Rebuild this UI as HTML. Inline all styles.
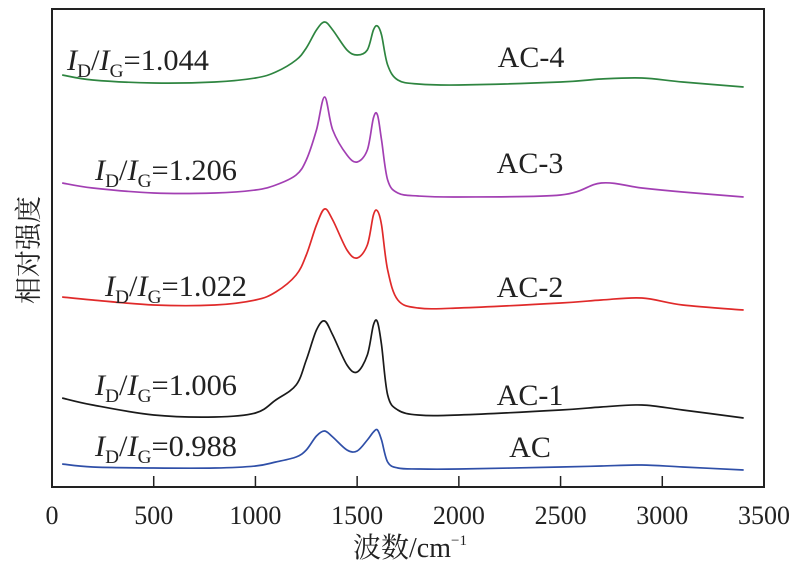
<!DOCTYPE html>
<html><head><meta charset="utf-8">
<style>
body{margin:0;background:#fff;}
svg{display:block;}
text{font-family:"Liberation Serif","Noto Serif CJK SC",serif;fill:#222;}
</style></head>
<body>
<svg id="chart" width="795" height="565" viewBox="0 0 795 565"></svg>
<script>
const wavenumbers=[50,200,500,800,1000,1100,1200,1250,1300,1340,1380,1450,1500,1550,1580,1600,1620,1650,1700,1800,2000,2500,2700,2900,3100,3400];
const seriesAC4=[412,407,404,405,409,415,427,439,457,465,457,437,432,437,457,461,452,422,407,403,402,405,408,409,405,400];
const seriesAC3=[304,299,294,294,297,302,312,327,357,390,357,332,325,337,369,372,347,307,294,291,290,292,304,299,295,290];
const seriesAC2=[190,187,182,182,187,195,212,232,262,278,267,237,229,242,272,276,262,217,187,179,179,184,187,189,182,177];
const seriesAC1=[89,82,72,70,74,87,102,127,157,166,152,122,115,132,162,165,142,92,77,72,72,77,80,82,77,69];
const seriesAC=[23,20,19,19,21,25,30,37,51,56,50,37,36,47,55,57,47,25,19,18,18,20,21,22,20,17];
const xTicks=[0,500,1000,1500,2000,2500,3000,3500];
const seriesNames=["AC-4","AC-3","AC-2","AC-1","AC"];
const ratioLabels=["1.044","1.206","1.022","1.006","0.988"];

const NS="http://www.w3.org/2000/svg";
const svg=document.getElementById('chart');
const L=52,R=764,T=9,B=487;
const xs=v=>L+(v/3500)*(R-L);
const ys=v=>B-v;
function mk(tag,attrs){const e=document.createElementNS(NS,tag);for(const k in attrs)e.setAttribute(k,attrs[k]);svg.appendChild(e);return e;}

const frame=mk('rect',{x:L,y:T,width:R-L,height:B-T,fill:'none',stroke:'#222','stroke-width':2});



xTicks.forEach(t=>{
  const tk=mk('line',{x1:xs(t),x2:xs(t),y1:B,y2:B-11,stroke:'#222','stroke-width':1.5});
  
  
  const lb=mk('text',{x:xs(t),y:524,'font-size':26,'text-anchor':'middle'});
  lb.textContent=t;
  
  
});

function pathFrom(vals){
  const p=wavenumbers.map((w,i)=>[xs(w),ys(vals[i])]);
  let d='M'+p[0][0]+','+p[0][1];
  for(let i=0;i<p.length-1;i++){
    const p0=p[i-1]||p[i],p1=p[i],p2=p[i+1],p3=p[i+2]||p2;
    const c1x=p1[0]+(p2[0]-p0[0])/6,c1y=p1[1]+(p2[1]-p0[1])/6;
    const c2x=p2[0]-(p3[0]-p1[0])/6,c2y=p2[1]-(p3[1]-p1[1])/6;
    d+=` C${c1x},${c1y} ${c2x},${c2y} ${p2[0]},${p2[1]}`;
  }
  return d;
}
const all=[seriesAC4,seriesAC3,seriesAC2,seriesAC1,seriesAC];
const colors=['#2e8540','#a23fb3','#e02a2a','#1a1a1a','#2f4fa8'];
all.forEach((s,i)=>{
  const pe=mk('path',{d:pathFrom(s),fill:'none',stroke:colors[i],'stroke-width':1.7});
  
  
});

const namePos=[[531,67],[530,173],[530,297],[530,405],[530,457]];
const ratioPos=[[67,70],[95,180],[105,296],[95,395],[95,456]];
seriesNames.forEach((n,i)=>{
  const t=mk('text',{x:namePos[i][0],y:namePos[i][1],'font-size':30,'text-anchor':'middle'});
  t.textContent=n;
  
  
  const r=mk('text',{x:ratioPos[i][0],y:ratioPos[i][1],'font-size':30,textLength:142,lengthAdjust:'spacingAndGlyphs'});
  r.innerHTML='<tspan font-style="italic">I</tspan><tspan font-size="19" dy="7">D</tspan><tspan dy="-7">/</tspan><tspan font-style="italic">I</tspan><tspan font-size="19" dy="7">G</tspan><tspan dy="-7">='+ratioLabels[i]+'</tspan>';
  
  
});

const xt=mk('text',{x:410,y:557,'font-size':28,'text-anchor':'middle'});
xt.innerHTML='波数/cm<tspan font-size="15" dy="-12">−1</tspan>';


const yt=mk('text',{x:0,y:0,'font-size':27,'text-anchor':'middle',transform:'translate(38,250) rotate(-90)'});
yt.textContent='相对强度';


</script>
</body></html>
